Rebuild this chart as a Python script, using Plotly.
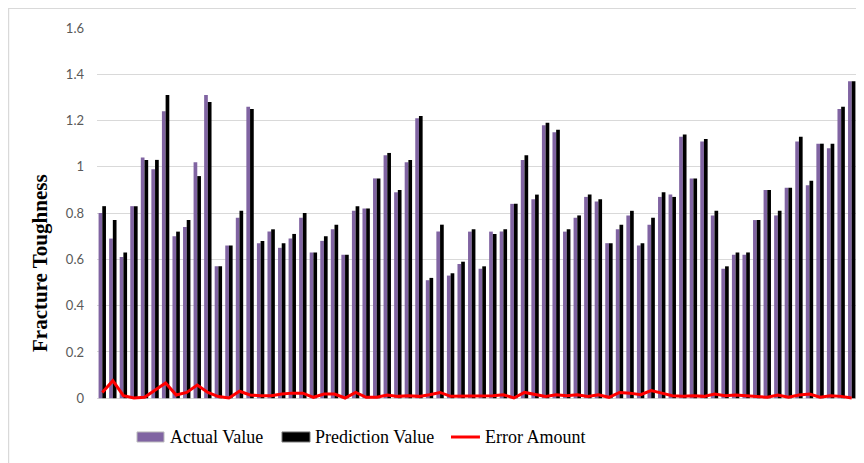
import plotly.graph_objects as go

categories = list(range(1, 73))

actual_value = [0.80, 0.69, 0.61, 0.83, 1.04, 0.99, 1.24, 0.70, 0.74, 1.02, 1.31, 0.57,
                0.66, 0.78, 1.26, 0.67, 0.72, 0.65, 0.69, 0.78, 0.63, 0.68, 0.73, 0.62,
                0.81, 0.82, 0.95, 1.05, 0.89, 1.02, 1.21, 0.51, 0.72, 0.53, 0.58, 0.72,
                0.56, 0.72, 0.72, 0.84, 1.03, 0.86, 1.18, 1.15, 0.72, 0.78, 0.87, 0.85,
                0.67, 0.73, 0.79, 0.66, 0.75, 0.87, 0.88, 1.13, 0.95, 1.11, 0.79, 0.56,
                0.62, 0.62, 0.77, 0.90, 0.79, 0.91, 1.11, 0.92, 1.10, 1.08, 1.25, 1.37]

prediction_value = [0.83, 0.77, 0.63, 0.83, 1.03, 1.03, 1.31, 0.72, 0.77, 0.96, 1.28, 0.57,
                    0.66, 0.81, 1.25, 0.68, 0.73, 0.67, 0.71, 0.80, 0.63, 0.70, 0.75, 0.62,
                    0.83, 0.82, 0.95, 1.06, 0.90, 1.03, 1.22, 0.52, 0.75, 0.54, 0.59, 0.73,
                    0.57, 0.71, 0.73, 0.84, 1.05, 0.88, 1.19, 1.16, 0.73, 0.79, 0.88, 0.86,
                    0.67, 0.75, 0.81, 0.67, 0.78, 0.89, 0.87, 1.14, 0.95, 1.12, 0.81, 0.57,
                    0.63, 0.63, 0.77, 0.90, 0.81, 0.91, 1.13, 0.94, 1.10, 1.10, 1.26, 1.37]

error_amount = [0.025, 0.076, 0.011, 0.001, 0.004, 0.037, 0.066, 0.014, 0.025, 0.057, 0.025, 0.007,
                0.001, 0.030, 0.014, 0.011, 0.011, 0.018, 0.022, 0.022, 0.004, 0.018, 0.018, 0.001,
                0.025, 0.004, 0.004, 0.014, 0.008, 0.011, 0.008, 0.015, 0.025, 0.008, 0.008, 0.011,
                0.011, 0.011, 0.015, 0.001, 0.025, 0.018, 0.008, 0.015, 0.011, 0.015, 0.008, 0.015,
                0.004, 0.025, 0.022, 0.015, 0.033, 0.022, 0.011, 0.008, 0.011, 0.008, 0.018, 0.011,
                0.014, 0.011, 0.008, 0.004, 0.014, 0.004, 0.014, 0.018, 0.004, 0.011, 0.008, 0.001]

y_tick_vals = [0, 0.2, 0.4, 0.6, 0.8, 1.0, 1.2, 1.4, 1.6]
y_tick_text = ["0", "0.2", "0.4", "0.6", "0.8", "1", "1.2", "1.4", "1.6"]

series_names = ["Actual Value", "Prediction Value", "Error Amount"]
series_colors = ["#8064A2", "#000000", "#FF0000"]

SERIF = "Times New Roman, Liberation Serif, serif"

fig = go.Figure()
fig.add_trace(go.Bar(x=categories, y=actual_value, name=series_names[0],
                     marker=dict(color=series_colors[0], line=dict(width=0))))
fig.add_trace(go.Bar(x=categories, y=prediction_value, name=series_names[1],
                     marker=dict(color=series_colors[1], line=dict(width=0))))
fig.add_trace(go.Scatter(x=categories, y=error_amount, name=series_names[2], mode="lines",
                         line=dict(color=series_colors[2], width=3)))

# custom legend (Excel-style wide swatches)
leg_y_top, leg_y_bot, leg_y_mid = -0.083, -0.110, -0.0965
swatch_x = [(0.0526, 0.0882), (0.2434, 0.2803), (0.4658, 0.5039)]
text_x = [0.0934, 0.2842, 0.5079]

shapes = [
    dict(type="line", xref="paper", yref="paper", x0=-0.12, x1=1.02, y0=1.053, y1=1.053,
         line=dict(color="#D9D9D9", width=1.5)),
    dict(type="line", xref="paper", yref="paper", x0=-0.1165, x1=-0.1165, y0=1.06, y1=-0.2,
         line=dict(color="#D9D9D9", width=1.5)),
]
annotations = [dict(text="<b>Fracture Toughness</b>", xref="paper", yref="paper",
                    x=-0.075, y=0.37, textangle=-90, showarrow=False,
                    xanchor="center", yanchor="middle",
                    font=dict(family=SERIF, size=21, color="#000000"))]
for i in range(3):
    x0, x1 = swatch_x[i]
    if i < 2:
        shapes.append(dict(type="rect", xref="paper", yref="paper", x0=x0, x1=x1,
                           y0=leg_y_bot, y1=leg_y_top, fillcolor=series_colors[i],
                           line=dict(width=1, color="#BFBFBF" if i == 0 else "#7F7F7F")))
    else:
        shapes.append(dict(type="line", xref="paper", yref="paper", x0=x0, x1=x1,
                           y0=leg_y_mid, y1=leg_y_mid,
                           line=dict(color=series_colors[i], width=3)))
    annotations.append(dict(text=series_names[i], xref="paper", yref="paper",
                            x=text_x[i], y=leg_y_mid, xanchor="left", yanchor="middle",
                            showarrow=False,
                            font=dict(family=SERIF, size=18, color="#000000")))

fig.update_layout(
    width=856, height=455,
    margin=dict(l=89, r=7, t=20, b=62),
    paper_bgcolor="white", plot_bgcolor="white",
    barmode="group", bargap=0.3, bargroupgap=0,
    showlegend=False,
    xaxis=dict(type="linear", range=[0.5, 72.5], showticklabels=False, showgrid=False,
               zeroline=False, showline=False, ticks=""),
    yaxis=dict(range=[-0.012, 1.6], tickvals=y_tick_vals, ticktext=y_tick_text,
               showgrid=True, gridcolor="#D9D9D9", gridwidth=1,
               zeroline=True, zerolinecolor="#D9D9D9", zerolinewidth=1,
               showline=False, ticks="", ticklabelstandoff=12,
               tickfont=dict(family="Lato", size=13, color="#595959")),
    annotations=annotations,
    shapes=shapes,
)

fig.write_html("out.html")
